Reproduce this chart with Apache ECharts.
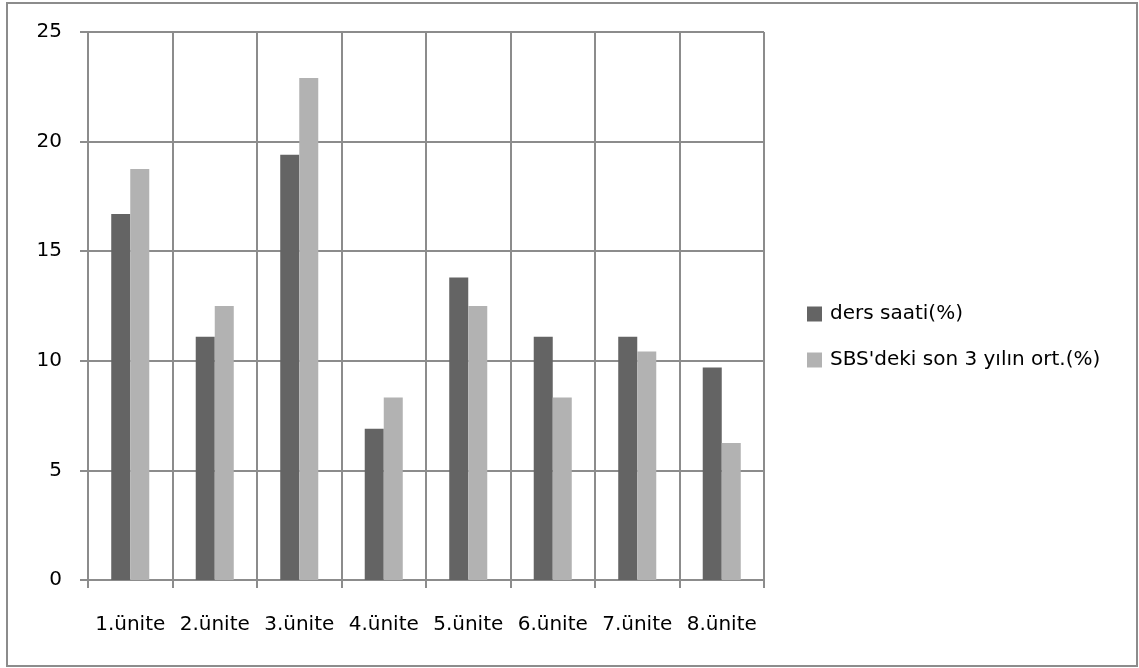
<!DOCTYPE html>
<html>
<head>
<meta charset="utf-8">
<script src="https://cdn.jsdelivr.net/npm/echarts@6/dist/echarts.min.js"></script>
<style>
html, body { margin: 0; padding: 0; background: #fff; }
#main { width: 1139px; height: 668px; }
</style>
</head>
<body>
<div id="main"></div>
<script>
// veriler
var units = ['1.ünite', '2.ünite', '3.ünite', '4.ünite', '5.ünite', '6.ünite', '7.ünite', '8.ünite'];
var dersSaati = [16.7, 11.1, 19.4, 6.9, 13.8, 11.1, 11.1, 9.7];
var sbsOrt = [18.75, 12.5, 22.9, 8.33, 12.5, 8.33, 10.42, 6.25];
var yTicks = [0, 25, 5]; // min, max, interval

var myChart = echarts.init(document.getElementById('main'));
var lineCol = '#8c8c8c';
var font = 'DejaVu Sans';

var option = {
    animation: false,
    backgroundColor: '#fff',
    textStyle: { fontFamily: font },
    graphic: [{
        type: 'rect',
        shape: { x: 7, y: 3, width: 1130, height: 663 },
        style: { fill: 'none', stroke: lineCol, lineWidth: 2 },
        silent: true
    }],
    grid: { left: 88, right: 375, top: 32, bottom: 88 },
    legend: {
        orient: 'vertical',
        left: 802,
        top: 299,
        itemWidth: 15,
        itemHeight: 15,
        itemGap: 26,
        icon: 'rect',
        textStyle: { fontFamily: font, fontSize: 20, color: '#000', padding: [0, 0, 0, 3] },
        data: ['ders saati(%)', "SBS'deki son 3 yılın ort.(%)"]
    },
    xAxis: {
        type: 'category',
        data: units,
        axisLine: { lineStyle: { color: lineCol, width: 2 } },
        axisTick: { show: true, interval: 0, length: 8, lineStyle: { color: lineCol, width: 2 } },
        axisLabel: { interval: 0, color: '#000', fontSize: 20, fontFamily: font, margin: 35 },
        splitLine: { show: true, interval: 0, lineStyle: { color: lineCol, width: 2 } }
    },
    yAxis: {
        type: 'value',
        min: yTicks[0],
        max: yTicks[1],
        interval: yTicks[2],
        axisLine: { show: true, lineStyle: { color: lineCol, width: 2 } },
        axisTick: { show: true, length: 8, lineStyle: { color: lineCol, width: 2 } },
        axisLabel: { color: '#000', fontSize: 20, fontFamily: font, margin: 26 },
        splitLine: { show: true, lineStyle: { color: lineCol, width: 2 } }
    },
    series: [{
        name: 'ders saati(%)',
        type: 'bar',
        data: dersSaati,
        barGap: 0,
        barCategoryGap: '55%',
        itemStyle: { color: '#646464' }
    }, {
        name: "SBS'deki son 3 yılın ort.(%)",
        type: 'bar',
        data: sbsOrt,
        itemStyle: { color: '#b2b2b2' }
    }]
};
myChart.setOption(option);
</script>
</body>
</html>
